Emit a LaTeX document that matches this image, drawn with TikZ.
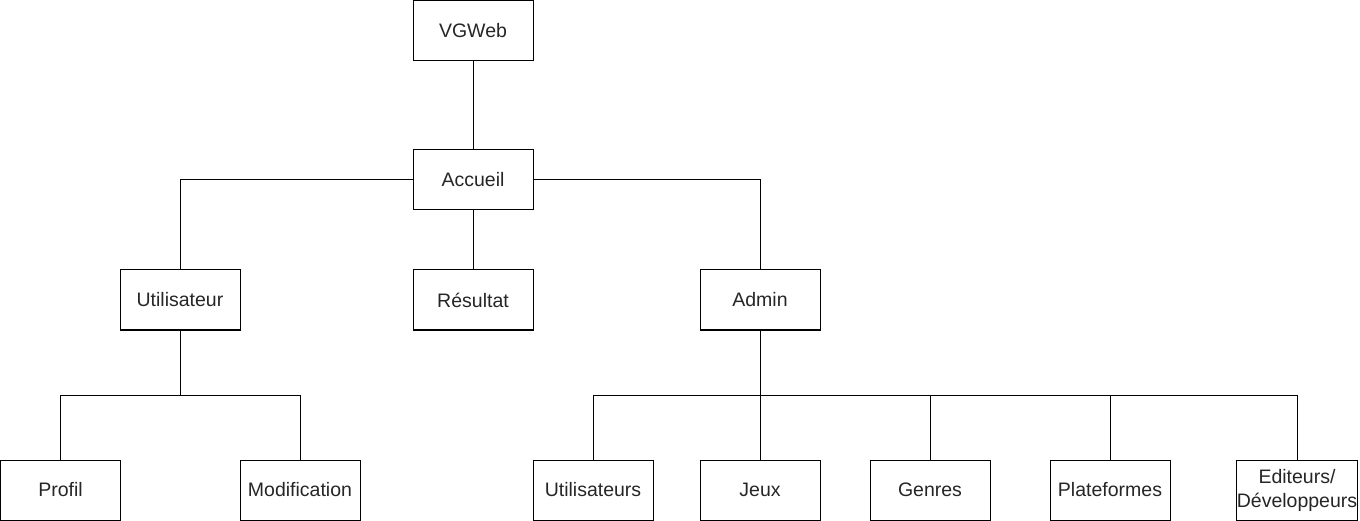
\documentclass[tikz,border=0pt]{standalone}
\usepackage{fontspec}
\setmainfont{Liberation Sans}
\begin{document}
\begin{tikzpicture}[x=1pt,y=-1pt,
  box/.style={draw=black,line width=1pt,fill=white,minimum width=120pt,minimum height=60pt,inner sep=0pt,
    font=\fontsize{19.5}{24}\selectfont,text=black!85,align=center},
  conn/.style={draw=black,line width=1pt}]
\useasboundingbox (0,0) rectangle (1360,521);
\node[box] (vg) at (473,31) {VGWeb};
\node[box] (acc) at (473,180) {Accueil};
\node[box] (util) at (180,300) {Utilisateur};
\node[box] (res) at (473,300) {Résultat};
\node[box] (adm) at (760,300) {Admin};
\node[box] (prof) at (60.5,490) {Profil};
\node[box] (modif) at (300,490) {Modification};
\node[box] (users) at (593,490) {Utilisateurs};
\node[box] (jeux) at (760,490) {Jeux};
\node[box] (genres) at (930,490) {Genres};
\node[box] (plat) at (1110,490) {Plateformes};
\node[box] (edit) at (1297,490) {Editeurs/\\Développeurs};
\coordinate (ub) at (180,395);
\coordinate (ab) at (760,395);
\draw[conn] (vg) -- (acc);
\draw[conn] (acc) -- (res);
\draw[conn] (acc.west) -| (util.north);
\draw[conn] (acc.east) -| (adm.north);
\draw[conn] (util.south) -- (ub);
\draw[conn] (ub) -| (prof.north);
\draw[conn] (ub) -| (modif.north);
\draw[conn] (adm.south) -- (ab);
\draw[conn] (ab) -| (users.north);
\draw[conn] (ab) -- (jeux.north);
\draw[conn] (ab) -| (genres.north);
\draw[conn] (ab) -| (plat.north);
\draw[conn] (ab) -| (edit.north);
\end{tikzpicture}
\end{document}
